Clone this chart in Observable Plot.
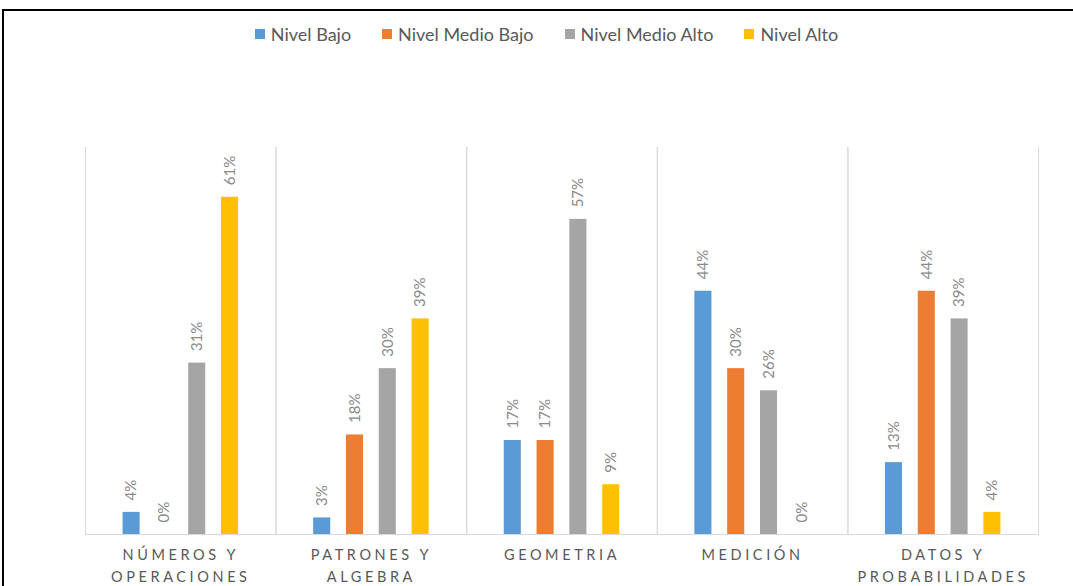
<!DOCTYPE html>
<html><head><meta charset="utf-8">
<script src="https://cdn.jsdelivr.net/npm/d3@7"></script>
<script src="https://cdn.jsdelivr.net/npm/@observablehq/plot@0.6"></script>
<style>
body{margin:0;background:#fff;width:1073px;height:586px;overflow:hidden;position:relative;font-family:Lato,"Open Sans",sans-serif;}
#frame{position:absolute;left:2px;top:9px;width:1200px;height:700px;border-top:2px solid #000;border-left:2px solid #000;}
#legend{position:absolute;top:23px;left:0;width:1093px;display:flex;justify-content:center;gap:31px;font-size:18px;color:#595959;line-height:22px;}
#legend .item{display:flex;align-items:center;}
#legend .sw{width:10px;height:10px;margin-right:6px;display:inline-block;}
#chart{position:absolute;top:60px;left:0;}
#chart g[aria-label="fx-axis tick label"] text{letter-spacing:3.6px;}
</style></head>
<body>
<div id="frame"></div>
<div id="legend"></div>
<div id="chart"></div>
<script>
const categories = ["NÚMEROS Y\nOPERACIONES","PATRONES Y\nALGEBRA","GEOMETRIA","MEDICIÓN","DATOS Y\nPROBABILIDADES"];
const series = ["Nivel Bajo","Nivel Medio Bajo","Nivel Medio Alto","Nivel Alto"];
const nivelBajo = [4,3,17,44,13];
const nivelMedioBajo = [0,18,17,30,44];
const nivelMedioAlto = [31,30,57,26,39];
const nivelAlto = [61,39,9,0,4];
const colors = ["#5b9bd5","#ed7d31","#a5a5a5","#ffc000"];
const seriesValues = [nivelBajo,nivelMedioBajo,nivelMedioAlto,nivelAlto];

const rows = categories.flatMap((c,i)=>series.map((s,j)=>({cat:c, serie:s, value:seriesValues[j][i]})));

const legend = document.getElementById("legend");
series.forEach((s,j)=>{
  const it=document.createElement("div");it.className="item";
  const sw=document.createElement("span");sw.className="sw";sw.style.background=colors[j];
  it.appendChild(sw);it.appendChild(document.createTextNode(s));legend.appendChild(it);
});

const chart = Plot.plot({
  width:1073, height:526,
  marginTop:87, marginBottom:52, marginLeft:85, marginRight:35,
  style:{fontFamily:"Lato, 'Open Sans', sans-serif", background:"transparent"},
  fx:{domain:categories, padding:0, round:false, label:null, axis:null},
  x:{domain:series, axis:null, round:false, paddingInner:0.48, paddingOuter:1.145},
  y:{domain:[0,70], axis:null},
  color:{domain:series, range:colors},
  marks:[
    Plot.frame({anchor:"left", stroke:"#d9d9d9", strokeOpacity:1}),
    Plot.frame({anchor:"right", stroke:"#d9d9d9", strokeOpacity:1}),
    Plot.barY(rows,{fx:"cat", x:"serie", y:"value", fill:"serie"}),
    Plot.ruleY([0],{stroke:"#d9d9d9"}),
    Plot.text(rows,{fx:"cat", x:"serie", y:"value", text:d=>d.value+"%", rotate:-90, textAnchor:"start", dy:-12, fill:"#8a8a8a", fontSize:15}),
    Plot.axisFx({anchor:"bottom", tickSize:0, tickPadding:10, fontSize:14.5, lineHeight:1.5, fill:"#595959", label:null})
  ]
});
document.getElementById("chart").appendChild(chart);
</script>
</body></html>
